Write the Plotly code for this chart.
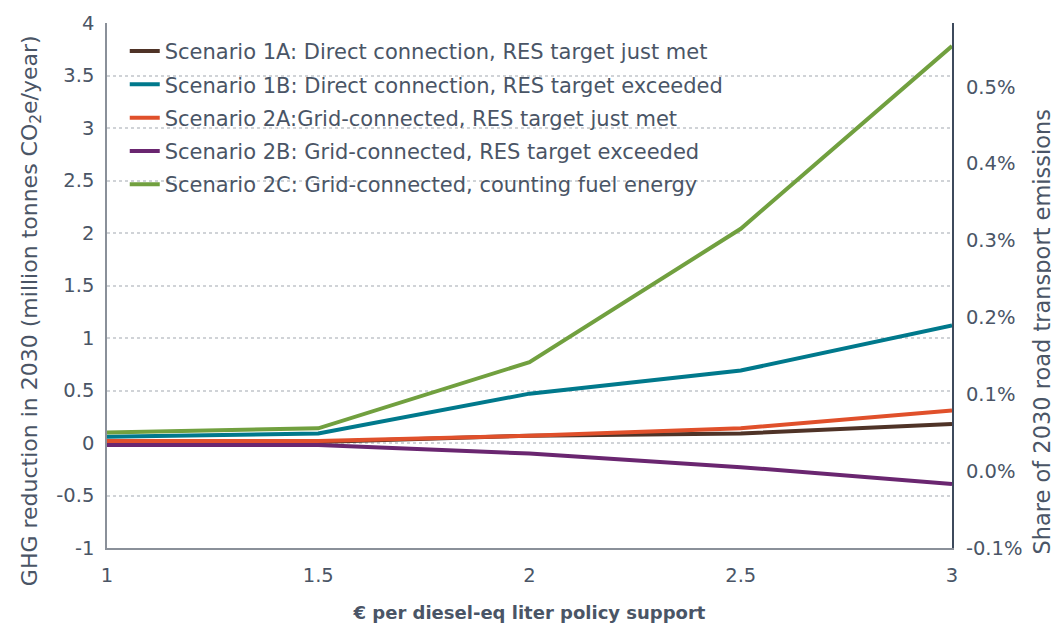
import plotly.graph_objects as go

# € per diesel-eq liter policy support
support = [1, 1.5, 2, 2.5, 3]

# GHG reduction in 2030 (million tonnes CO2e/year)
scenario_1a = [0.01, 0.01, 0.07, 0.09, 0.18]
scenario_1b = [0.06, 0.09, 0.47, 0.69, 1.12]
scenario_2a = [0.02, 0.02, 0.07, 0.14, 0.31]
scenario_2b = [-0.02, -0.02, -0.10, -0.23, -0.39]
scenario_2c = [0.10, 0.14, 0.77, 2.04, 3.78]

names = [
    "Scenario 1A: Direct connection, RES target just met",
    "Scenario 1B: Direct connection, RES target exceeded",
    "Scenario 2A:Grid-connected, RES target just met",
    "Scenario 2B: Grid-connected, RES target exceeded",
    "Scenario 2C: Grid-connected, counting fuel energy",
]
colors = ["#4f3327", "#00798c", "#e0502b", "#6a2670", "#71a03f"]
series = [scenario_1a, scenario_1b, scenario_2a, scenario_2b, scenario_2c]

# axis ticks
x_ticks = [1, 1.5, 2, 2.5, 3]
x_labels = ["1", "1.5", "2", "2.5", "3"]
ghg_ticks = [-1, -0.5, 0, 0.5, 1, 1.5, 2, 2.5, 3, 3.5, 4]
ghg_labels = ["-1", "-0.5", "0", "0.5", "1", "1.5", "2", "2.5", "3", "3.5", "4"]
share_ticks = [-0.1, 0.0, 0.1, 0.2, 0.3, 0.4, 0.5]
share_labels = ["-0.1%", "0.0%", "0.1%", "0.2%", "0.3%", "0.4%", "0.5%"]

TEXT = "#4a5566"
FONT = "'DejaVu Sans', sans-serif"
TICK = 19.5

fig = go.Figure()

for i, (name, color, values) in enumerate(zip(names, colors, series)):
    fig.add_trace(
        go.Scatter(
            x=support,
            y=values,
            mode="lines",
            name=name,
            legendgroup=f"g{i}",
            line={"color": color, "width": 4},
        )
    )

# empty trace so the secondary (share) axis is drawn
fig.add_trace(go.Scatter(x=[], y=[], yaxis="y2", showlegend=False, hoverinfo="skip"))

# y-axis titles as annotations so they can sit where the original has them
fig.add_annotation(
    text="GHG reduction in 2030 (million tonnes CO<sub>2</sub>e/year)",
    xref="paper", yref="paper", x=-0.09, y=0.453,
    xanchor="center", yanchor="middle", textangle=-90, showarrow=False,
    font={"size": 22, "color": TEXT},
)
fig.add_annotation(
    text="Share of 2030 road transport emissions",
    xref="paper", yref="paper", x=1.107, y=0.413,
    xanchor="center", yanchor="middle", textangle=-90, showarrow=False,
    font={"size": 22.5, "color": TEXT},
)

# the page body has an 8px margin, so the figure is sized to fit inside it
fig.update_layout(
    width=1051,
    height=615,
    margin={"l": 99, "r": 107, "t": 15, "b": 75, "autoexpand": False},
    plot_bgcolor="white",
    paper_bgcolor="white",
    font={"family": FONT, "size": TICK, "color": TEXT},
    showlegend=True,
    legend={
        "x": 0.021,
        "y": 0.985,
        "xanchor": "left",
        "yanchor": "top",
        "bgcolor": "rgba(0,0,0,0)",
        "font": {"size": 21, "color": TEXT},
        "traceorder": "grouped",
        "tracegroupgap": 3,
    },
    xaxis={
        "range": [1, 3],
        "tickvals": x_ticks,
        "ticktext": x_labels,
        "showgrid": False,
        "zeroline": False,
        "showline": True,
        "linecolor": "#8a9099",
        "linewidth": 1.5,
        "ticks": "outside",
        "ticklen": 9,
        "tickcolor": "rgba(0,0,0,0)",
        "tickfont": {"size": TICK, "color": TEXT},
        "automargin": False,
        "title": {
            "text": "<b>€ per diesel-eq liter policy support</b>",
            "font": {"size": 18, "color": TEXT},
            "standoff": 20,
        },
    },
    yaxis={
        "range": [-1, 4],
        "tickvals": ghg_ticks,
        "ticktext": ghg_labels,
        "showgrid": True,
        "gridcolor": "#d0d3d7",
        "griddash": "dot",
        "gridwidth": 1.5,
        "zeroline": False,
        "showline": True,
        "linecolor": "#8a9099",
        "linewidth": 1.5,
        "ticks": "outside",
        "ticklen": 7,
        "tickcolor": "rgba(0,0,0,0)",
        "tickfont": {"size": TICK, "color": TEXT},
        "automargin": False,
    },
    yaxis2={
        "overlaying": "y",
        "side": "right",
        "range": [-0.1, 0.583],
        "tickvals": share_ticks,
        "ticktext": share_labels,
        "showgrid": False,
        "zeroline": False,
        "showline": True,
        "linecolor": "#3d4a5c",
        "linewidth": 2,
        "ticks": "outside",
        "ticklen": 8,
        "tickcolor": "rgba(0,0,0,0)",
        "tickfont": {"size": TICK, "color": TEXT},
        "automargin": False,
    },
)

fig.write_html("out.html")
